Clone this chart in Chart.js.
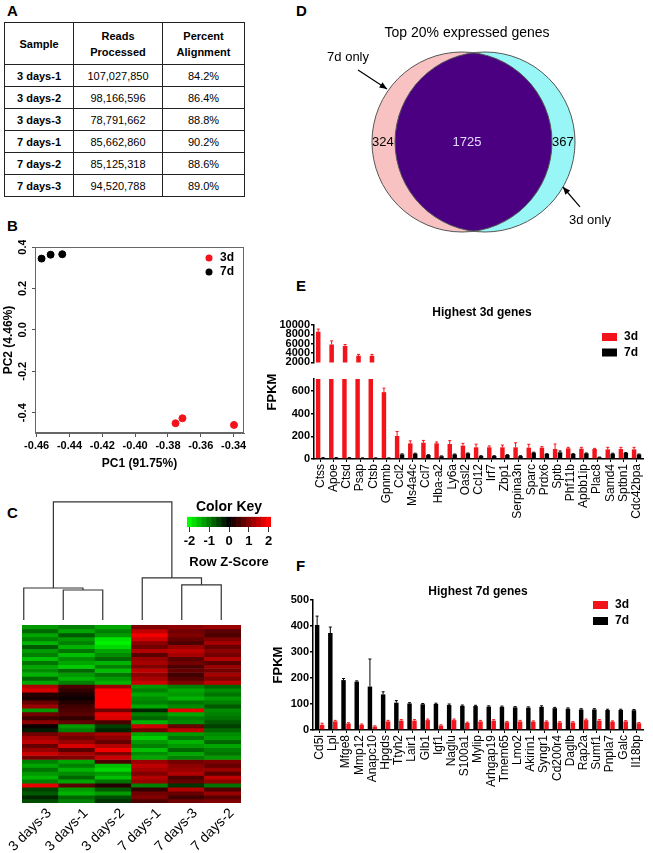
<!DOCTYPE html>
<html>
<head>
<meta charset="utf-8">
<script src="https://cdn.jsdelivr.net/npm/chart.js@4.4.0/dist/chart.umd.min.js"></script>
<style>
body { margin: 0; background: #fff; font-family: "Liberation Sans", Arial, sans-serif; }
#page { position: relative; width: 653px; height: 853px; overflow: hidden; }
.lbl { position: absolute; font-weight: bold; font-size: 15px; line-height: 15px; }
canvas { position: absolute; }
#tbl { position: absolute; left: 4px; top: 22px; width: 240px; border-collapse: collapse; table-layout: fixed; font-size: 11px; }
#tbl td, #tbl th { border: 1.5px solid #222; text-align: center; padding: 0; font-weight: normal; }
#tbl th { font-weight: bold; line-height: 16px; height: 41px; }
#tbl td { height: 21px; }
#tbl td:first-child { font-weight: bold; }
</style>
</head>
<body>
<div id="page">
  <div class="lbl" style="left:7px;top:3px">A</div>
  <div class="lbl" style="left:7px;top:218px">B</div>
  <div class="lbl" style="left:7px;top:505px">C</div>
  <div class="lbl" style="left:296px;top:3px">D</div>
  <div class="lbl" style="left:296px;top:278px">E</div>
  <div class="lbl" style="left:296px;top:558px">F</div>

  <table id="tbl">
    <colgroup><col style="width:69px"><col style="width:89px"><col style="width:82px"></colgroup>
    <thead><tr><th>Sample</th><th>Reads<br>Processed</th><th>Percent<br>Alignment</th></tr></thead>
    <tbody id="tbody"></tbody>
  </table>

  <canvas id="pca" width="250" height="235" style="left:0;top:240px"></canvas>
  <canvas id="dendro" width="237" height="125" style="left:4px;top:497px"></canvas>
  <canvas id="key" width="118" height="75" style="left:170px;top:497px"></canvas>
  <canvas id="heat" width="262" height="228" style="left:0;top:625px"></canvas>
  <canvas id="venn" width="353" height="262" style="left:300px;top:0"></canvas>
  <canvas id="e1" width="403" height="70" style="left:250px;top:300px"></canvas>
  <canvas id="e2" width="403" height="160" style="left:250px;top:370px"></canvas>
  <canvas id="f" width="403" height="273" style="left:250px;top:580px"></canvas>
</div>
<script>
// A: sequencing summary
var samples = ['3 days-1', '3 days-2', '3 days-3', '7 days-1', '7 days-2', '7 days-3'];
var readsProcessed = [107027850, 98166596, 78791662, 85662860, 85125318, 94520788];
var percentAlignment = [84.2, 86.4, 88.8, 90.2, 88.6, 89.0];

// B: PCA
var pcXTicks = [-0.46, -0.44, -0.42, -0.40, -0.38, -0.36, -0.34];
var pcYTicks = [-0.4, -0.2, 0.0, 0.2, 0.4];
var pc1_3d = [-0.3754, -0.3712, -0.3398];
var pc2_3d = [-0.451, -0.427, -0.459];
var pc1_7d = [-0.457, -0.4515, -0.4444];
var pc2_7d = [0.344, 0.363, 0.365];

// C: heatmap (row z-scores, top row first)
var heatCols = ['3 days-3', '3 days-1', '3 days-2', '7 days-1', '7 days-3', '7 days-2'];
var heatZ = [
  [-1.2, -1.0, -1.3, 1.0, 1.1, 1.2],
  [-0.8, -1.3, -1.0, 1.5, 0.9, 0.7],
  [-1.3, -0.7, -1.2, 1.9, 1.0, 0.6],
  [-1.0, -1.2, -1.8, 1.6, 0.8, 1.0],
  [-1.4, -1.0, -1.9, 1.1, 0.6, 1.3],
  [-0.7, -1.4, -1.7, 0.9, 1.2, 0.8],
  [-1.2, -0.9, -1.3, 1.4, 1.5, 1.1],
  [-1.0, -1.5, -1.1, 0.7, 1.3, 0.9],
  [-1.5, -1.1, -0.8, 1.2, 0.7, 1.4],
  [-0.9, -1.3, -1.4, 1.3, 0.9, 0.7],
  [-1.3, -1.6, -1.0, 1.0, 0.6, 1.2],
  [-1.1, -0.8, -1.5, 1.5, 0.8, 0.9],
  [-1.4, -1.2, -0.9, 1.1, 0.5, 1.3],
  [-0.8, -1.4, -1.2, 1.3, 0.7, 1.0],
  [-1.3, -1.0, -1.4, 1.6, 1.0, 1.5],
  [1.4, 0.6, 1.2, -1.2, -1.0, -0.8],
  [1.7, 0.4, 2.0, -1.0, -1.3, -1.1],
  [0.3, 0.2, 2.2, -1.3, -1.2, -0.9],
  [0.2, 0.1, 2.2, -1.1, -1.4, -1.2],
  [0.8, 0.3, 2.2, -1.0, -0.9, -1.0],
  [1.2, 0.5, 2.1, -1.3, -1.1, -0.7],
  [-1.2, 0.6, 0.9, -0.3, 1.8, -1.1],
  [0.9, 0.7, 1.8, -1.0, -1.3, -1.0],
  [0.5, 0.4, 1.7, -0.8, -1.0, -0.9],
  [1.1, 0.8, 0.6, -1.4, -1.1, -0.7],
  [0.1, -1.2, -0.5, 1.6, 0.8, -0.5],
  [-0.2, -1.0, -0.3, 0.9, 1.5, -0.8],
  [0.9, 1.1, 1.3, -1.3, -1.2, -1.1],
  [1.3, 0.9, 1.1, -1.6, -0.9, -1.2],
  [1.5, 1.2, 0.8, -1.2, -1.4, -0.8],
  [0.8, 1.7, 1.4, -1.0, -1.2, -1.3],
  [1.2, 0.7, 1.9, -1.5, -0.8, -1.0],
  [1.6, 1.3, 1.0, -1.1, -1.3, -0.9],
  [0.9, 1.0, 1.6, -1.3, -1.0, -1.2],
  [-1.0, -1.3, 0.6, 1.2, 0.9, 1.0],
  [-1.3, -1.0, -1.5, 1.5, 1.1, 0.8],
  [-0.9, -1.4, -1.7, 1.3, 1.2, 1.2],
  [-1.2, -1.1, -1.2, 1.0, 1.4, 0.7],
  [-1.4, -0.8, -1.5, 1.4, 0.6, 1.5],
  [-1.0, -1.3, -0.9, 1.2, 0.8, 1.1],
  [1.8, 0.7, 0.3, -1.0, -0.4, -0.9],
  [-0.5, -1.2, -0.7, 0.4, 1.4, 0.6],
  [-0.7, -1.4, -1.2, 0.9, 0.8, 1.2],
  [-0.3, -0.8, -0.6, 1.0, 0.5, 0.7],
  [-0.6, -1.0, -0.4, 0.6, 0.9, 1.0]
];
var keyBins = [-2, -1.75, -1.5, -1.25, -1, -0.75, -0.5, -0.25, 0, 0.25, 0.5, 0.75, 1, 1.25, 1.5, 1.75, 2];
var keyTicks = [-2, -1, 0, 1, 2];
// children: leaf column index or earlier merge 'm<i>'
var dendroMerges = [
  { a: 1, b: 2, h: 0.254 },
  { a: 0, b: 'm0', h: 0.271 },
  { a: 4, b: 5, h: 0.297 },
  { a: 3, b: 'm2', h: 0.356 },
  { a: 'm1', b: 'm3', h: 1 }
];

// D: venn counts
var vennLabels = ['7d only', 'both', '3d only'];
var vennCounts = [324, 1725, 367];

// E: highest 3d genes
var genes3d = ['Ctss', 'Apoe', 'Ctsd', 'Psap', 'Ctsb', 'Gpnmb', 'Ccl2', 'Ms4a4c', 'Ccl7', 'Hba-a2', 'Ly6a', 'Oasl2', 'Ccl12',
  'Irf7', 'Zbp1', 'Serpina3n', 'Sparc', 'Prdx6', 'Sptb', 'Phf11b', 'Apbb1ip', 'Plac8', 'Samd4', 'Sptbn1', 'Cdc42bpa'];
var e3d = [8530, 5830, 5520, 3410, 3410, 590, 203, 138, 144, 138, 132, 118, 103, 103, 103, 103, 100, 100, 88, 94, 91, 88, 85, 88, 85];
var e3dErr = [600, 770, 300, 300, 300, 35, 40, 22, 20, 12, 30, 20, 28, 12, 20, 40, 30, 9, 44, 9, 12, 6, 18, 15, 18];
var e7d = [10, 10, 10, 8, 8, 8, 41, 47, 35, 24, 41, 50, 26, 26, 35, 26, 56, 44, 59, 44, 50, 15, 47, 53, 41];
var e7dErr = [2, 2, 2, 2, 2, 2, 4, 4, 3, 3, 3, 3, 3, 3, 3, 3, 4, 3, 12, 3, 3, 2, 4, 4, 3];
var eHighTicks = [2000, 4000, 6000, 8000, 10000];
var eLowTicks = [0, 200, 400, 600];

// F: highest 7d genes
var genes7d = ['Cd5l', 'Lpl', 'Mfge8', 'Mmp12', 'Anapc10', 'Hpgds', 'Ttyh2', 'Lair1', 'Glb1', 'Igf1', 'Naglu', 'S100a1', 'Mylip',
  'Arhgap19', 'Tmem65', 'Lmo2', 'Akirin1', 'Syngr1', 'Cd200r4', 'Daglb', 'Rap2a', 'Sumf1', 'Pnpla7', 'Galc', 'Il18bp'];
var f7d = [404, 373, 192, 186, 167, 137, 105, 102, 99, 100, 96, 93, 92, 90, 89, 87, 86, 89, 84, 82, 79, 79, 77, 77, 76];
var f7dErr = [34, 23, 6, 3, 106, 10, 8, 3, 3, 3, 4, 3, 3, 3, 3, 3, 3, 4, 3, 3, 3, 3, 3, 3, 3];
var f3d = [20, 33, 25, 20, 13, 33, 36, 36, 38, 17, 38, 27, 33, 36, 30, 33, 32, 32, 29, 29, 38, 36, 32, 33, 26];
var f3dErr = [6, 4, 3, 3, 3, 4, 4, 4, 4, 3, 4, 3, 4, 4, 3, 4, 3, 3, 3, 3, 4, 4, 3, 3, 3];
var fTicks = [0, 100, 200, 300, 400, 500];

var RED = '#f2141a';
var FONT = '"Liberation Sans", Arial, sans-serif';

// ---------- table ----------
var tbody = document.getElementById('tbody');
samples.forEach(function(s, i) {
  var tr = document.createElement('tr');
  [s, readsProcessed[i].toLocaleString('en-US'), percentAlignment[i].toFixed(1) + '%'].forEach(function(t) {
    var td = document.createElement('td');
    td.textContent = t;
    tr.appendChild(td);
  });
  tbody.appendChild(tr);
});

Chart.defaults.font.family = FONT;
Chart.defaults.color = '#000';
Chart.defaults.animation = false;
Chart.defaults.responsive = false;
Chart.defaults.plugins.legend.display = false;
Chart.defaults.plugins.tooltip.enabled = false;

function fixTicks(arr) {
  return function(s) { s.ticks = arr.map(function(v) { return { value: v }; }); };
}

// texts drawn at canvas pixel positions
function textPlugin(items) {
  return {
    id: 'texts',
    afterDraw: function(chart) {
      var ctx = chart.ctx;
      items.forEach(function(t) {
        ctx.save();
        ctx.font = t.font;
        ctx.fillStyle = t.color || '#000';
        ctx.textAlign = t.align || 'center';
        ctx.textBaseline = 'middle';
        ctx.translate(t.x, t.y);
        if (t.rot) ctx.rotate(t.rot);
        ctx.fillText(t.text, 0, 0);
        ctx.restore();
      });
    }
  };
}

function legendPlugin(x, y, gap, order, dot) {
  return {
    id: 'miniLegend',
    afterDraw: function(chart) {
      var ctx = chart.ctx;
      ctx.save();
      order.forEach(function(di, k) {
        var ds = chart.data.datasets[di];
        var cy = y + k * gap;
        ctx.fillStyle = ds.backgroundColor;
        if (dot) {
          ctx.beginPath(); ctx.arc(x, cy, 3.5, 0, Math.PI * 2); ctx.fill();
        } else {
          ctx.fillRect(x, cy - 4, 15, 8);
        }
        ctx.fillStyle = '#000';
        ctx.font = 'bold 12px ' + FONT;
        ctx.textAlign = 'left';
        ctx.textBaseline = 'middle';
        ctx.fillText(ds.label, x + (dot ? 11 : 22), cy);
      });
      ctx.restore();
    }
  };
}

var errorBars = {
  id: 'errorBars',
  afterDatasetsDraw: function(chart) {
    var ctx = chart.ctx, a = chart.chartArea, ys = chart.scales.y;
    ctx.save();
    ctx.beginPath(); ctx.rect(a.left, a.top, a.right - a.left, a.bottom - a.top); ctx.clip();
    chart.data.datasets.forEach(function(ds, i) {
      if (!ds.errors) return;
      chart.getDatasetMeta(i).data.forEach(function(bar, j) {
        var top = ys.getPixelForValue(ds.data[j] + ds.errors[j]);
        ctx.strokeStyle = ds.backgroundColor;
        ctx.lineWidth = 1;
        ctx.beginPath();
        ctx.moveTo(bar.x, bar.y); ctx.lineTo(bar.x, top);
        ctx.moveTo(bar.x - 1.5, top); ctx.lineTo(bar.x + 1.5, top);
        ctx.stroke();
      });
    });
    ctx.restore();
  }
};

var framePlugin = {
  id: 'frame',
  afterDraw: function(chart) {
    var a = chart.chartArea, ctx = chart.ctx;
    ctx.save();
    ctx.strokeStyle = '#666'; ctx.lineWidth = 1;
    ctx.strokeRect(a.left + 0.5, a.top + 0.5, a.right - a.left - 1, a.bottom - a.top - 1);
    ctx.restore();
  }
};

// vertical (rotated) y tick labels for the PCA plot, placed through the y scale
var pcYLabels = {
  id: 'pcYLabels',
  afterDraw: function(chart) {
    var ctx = chart.ctx, ys = chart.scales.y;
    ctx.save();
    ctx.font = 'bold 11px ' + FONT;
    ctx.fillStyle = '#000';
    ctx.textAlign = 'center';
    ctx.textBaseline = 'middle';
    pcYTicks.forEach(function(v) {
      ctx.save();
      ctx.translate(23, ys.getPixelForValue(v));
      ctx.rotate(-Math.PI / 2);
      ctx.fillText(v.toFixed(1), 0, 0);
      ctx.restore();
    });
    ctx.restore();
  }
};

// ---------- B: PCA ----------
new Chart(document.getElementById('pca'), {
  type: 'scatter',
  data: {
    datasets: [
      { label: '3d', data: pc1_3d.map(function(x, i) { return { x: x, y: pc2_3d[i] }; }),
        backgroundColor: RED, borderColor: RED, pointRadius: 3.5 },
      { label: '7d', data: pc1_7d.map(function(x, i) { return { x: x, y: pc2_7d[i] }; }),
        backgroundColor: '#000', borderColor: '#000', pointRadius: 3.5 }
    ]
  },
  options: {
    layout: { padding: { top: 7, right: 6, left: 0, bottom: 0 } },
    scales: {
      x: {
        type: 'linear', min: -0.461, max: -0.3337,
        afterBuildTicks: fixTicks(pcXTicks),
        afterFit: function(s) { s.height = 42; },
        ticks: { font: { size: 11, weight: 'bold' }, padding: 2, autoSkip: false,
          callback: function(v) { return v.toFixed(2); } },
        grid: { drawOnChartArea: false, tickLength: 4, color: '#555' },
        border: { color: '#666' },
        title: { display: true, text: 'PC1 (91.75%)', font: { size: 12, weight: 'bold' }, padding: { top: 0, bottom: 4 } }
      },
      y: {
        type: 'linear', min: -0.498, max: 0.4,
        afterBuildTicks: fixTicks(pcYTicks),
        afterFit: function(s) { s.width = 35; },
        ticks: { display: false },
        grid: { drawOnChartArea: false, tickLength: 3, color: '#555' },
        border: { color: '#666' },
        title: { display: true, text: 'PC2 (4.46%)', font: { size: 12, weight: 'bold' }, padding: { top: 1, bottom: 0 } }
      }
    }
  },
  plugins: [framePlugin, pcYLabels, legendPlugin(209, 18, 14, [0, 1], true)]
});

// ---------- C: heatmap, dendrogram, colour key ----------
function zColor(z) {
  var c = Math.round(255 * Math.min(1, Math.abs(z) / 2));
  return z < 0 ? 'rgb(0,' + c + ',0)' : 'rgb(' + c + ',0,0)';
}

new Chart(document.getElementById('heat'), {
  type: 'bar',
  data: {
    labels: heatCols,
    datasets: heatZ.map(function(row) {
      return { data: row.map(function() { return 1; }), backgroundColor: row.map(zColor),
        borderWidth: 0, barPercentage: 1, categoryPercentage: 1 };
    })
  },
  options: {
    layout: { padding: { left: 4, right: 21, top: 0, bottom: 0 } },
    scales: {
      x: {
        stacked: true,
        afterFit: function(s) { s.height = 50; },
        ticks: { font: { size: 14 }, minRotation: 45, maxRotation: 45, autoSkip: false, labelOffset: 9, padding: 2 },
        grid: { display: false, drawTicks: false },
        border: { display: false }
      },
      y: { stacked: true, display: false, min: 0, max: heatZ.length, reverse: true }
    }
  }
});

var nodeX = {}, nodeH = {};
function posOf(n) { return typeof n === 'number' ? n + 0.5 : nodeX[n]; }
function hOf(n) { return typeof n === 'number' ? 0 : nodeH[n]; }
var dendroSets = dendroMerges.map(function(m, i) {
  var xa = posOf(m.a), xb = posOf(m.b);
  var set = {
    data: [{ x: xa, y: hOf(m.a) }, { x: xa, y: m.h }, { x: xb, y: m.h }, { x: xb, y: hOf(m.b) }],
    showLine: true, borderColor: '#333', borderWidth: 1.2, pointRadius: 0
  };
  nodeX['m' + i] = (xa + xb) / 2;
  nodeH['m' + i] = m.h;
  return set;
});

new Chart(document.getElementById('dendro'), {
  type: 'scatter',
  data: { datasets: dendroSets },
  options: {
    layout: { padding: 0 },
    scales: {
      x: { type: 'linear', display: false, min: 0, max: heatCols.length },
      y: { type: 'linear', display: false, min: -0.017, max: 1.042 }
    }
  }
});

new Chart(document.getElementById('key'), {
  type: 'bar',
  data: {
    datasets: [{
      data: keyBins.map(function(z) { return { x: z, y: 1 }; }),
      backgroundColor: keyBins.map(zColor), borderWidth: 0, barPercentage: 1, categoryPercentage: 1
    }]
  },
  options: {
    layout: { padding: { left: 17, right: 17, top: 0, bottom: 0 } },
    plugins: {
      title: { display: true, text: 'Color Key', font: { size: 14, weight: 'bold' }, color: '#000', padding: { top: 2, bottom: 1 } }
    },
    scales: {
      x: {
        type: 'linear', min: -2.125, max: 2.125, offset: false,
        afterBuildTicks: fixTicks(keyTicks),
        afterFit: function(s) { s.height = 45; },
        ticks: { font: { size: 13, weight: 'bold' }, padding: 2, autoSkip: false },
        grid: { drawOnChartArea: false, tickLength: 5, color: '#333', offset: false },
        border: { display: false },
        title: { display: true, text: 'Row Z-Score', font: { size: 13, weight: 'bold' }, padding: { top: 0, bottom: 2 } }
      },
      y: { display: false, min: 0, max: 1 }
    }
  }
});

// ---------- D: venn ----------
var vennGeo = { c7: -0.128, c3: 0.128, r: 1 };
var vennText = [{ x: -1.006, y: 0 }, { x: -0.072, y: 0 }, { x: 0.994, y: 0 }];
var vennPlugin = {
  id: 'venn',
  afterDraw: function(chart) {
    var ctx = chart.ctx, sx = chart.scales.x, sy = chart.scales.y;
    var rx = sx.getPixelForValue(vennGeo.r) - sx.getPixelForValue(0);
    var ry = sy.getPixelForValue(0) - sy.getPixelForValue(vennGeo.r);
    var cy = sy.getPixelForValue(0);
    var x7 = sx.getPixelForValue(vennGeo.c7), x3 = sx.getPixelForValue(vennGeo.c3);
    function ell(x) { ctx.beginPath(); ctx.ellipse(x, cy, rx, ry, 0, 0, Math.PI * 2); }
    function px(x, y) { return [sx.getPixelForValue(x), sy.getPixelForValue(y)]; }
    function arrow(a, b) {
      var p = px(a[0], a[1]), q = px(b[0], b[1]);
      var ang = Math.atan2(q[1] - p[1], q[0] - p[0]);
      ctx.beginPath(); ctx.moveTo(p[0], p[1]); ctx.lineTo(q[0], q[1]); ctx.stroke();
      ctx.beginPath(); ctx.moveTo(q[0], q[1]);
      ctx.lineTo(q[0] - 8 * Math.cos(ang - 0.4), q[1] - 8 * Math.sin(ang - 0.4));
      ctx.lineTo(q[0] - 8 * Math.cos(ang + 0.4), q[1] - 8 * Math.sin(ang + 0.4));
      ctx.closePath(); ctx.fill();
    }
    function text(t, x, y, font, color) {
      var p = px(x, y);
      ctx.font = font; ctx.fillStyle = color || '#000';
      ctx.textAlign = 'center'; ctx.textBaseline = 'middle';
      ctx.fillText(t, p[0], p[1]);
    }
    ctx.save();
    ell(x7); ctx.fillStyle = '#f9c2c2'; ctx.fill();
    ell(x3); ctx.fillStyle = '#98f6f6'; ctx.fill();
    ctx.save(); ell(x7); ctx.clip(); ell(x3); ctx.fillStyle = '#4b0082'; ctx.fill(); ctx.restore();
    ctx.strokeStyle = '#555'; ctx.lineWidth = 1;
    ell(x7); ctx.stroke(); ell(x3); ctx.stroke();

    text('Top 20% expressed genes', -0.072, 1.211, '14px ' + FONT);
    text(vennLabels[0], -1.394, 0.944, '13px ' + FONT);
    text(vennLabels[2], 1.294, -0.867, '13px ' + FONT);
    vennCounts.forEach(function(c, i) {
      text(String(c), vennText[i].x, vennText[i].y, '13px ' + FONT, i === 1 ? '#e4d8ff' : '#000');
    });
    ctx.strokeStyle = '#000'; ctx.fillStyle = '#000'; ctx.lineWidth = 1.2;
    arrow([-1.283, 0.8], [-0.961, 0.589]);
    arrow([1.183, -0.722], [0.994, -0.5]);
    ctx.restore();
  }
};

new Chart(document.getElementById('venn'), {
  type: 'scatter',
  data: { datasets: [] },
  options: {
    layout: { padding: 0 },
    scales: {
      x: { type: 'linear', display: false, min: -1.9278, max: 1.9944 },
      y: { type: 'linear', display: false, min: -1.3333, max: 1.5778 }
    }
  },
  plugins: [vennPlugin]
});

// ---------- E / F bar charts ----------
function yAxis(min, max, ticks, width, extra) {
  var ax = {
    min: min, max: max,
    afterBuildTicks: fixTicks(ticks),
    afterFit: function(s) { s.width = width; },
    ticks: { font: { size: 11, weight: 'bold' }, padding: 1, autoSkip: false,
      callback: function(v) { return String(v); } },
    grid: { drawOnChartArea: false, tickLength: 3, color: '#000', lineWidth: 1.5 },
    border: { color: '#000', width: 1.5 }
  };
  return Object.assign(ax, extra || {});
}
function xAxis(height) {
  return {
    afterFit: function(s) { s.height = height; },
    ticks: { font: { size: 12 }, minRotation: 90, maxRotation: 90, autoSkip: false, padding: 2 },
    grid: { drawOnChartArea: false, tickLength: 3, color: '#000', offset: false },
    border: { color: '#000', width: 1.5 }
  };
}
function eSets() {
  return [
    { label: '3d', data: e3d, errors: e3dErr, backgroundColor: RED, categoryPercentage: 0.75, barPercentage: 0.9 },
    { label: '7d', data: e7d, errors: e7dErr, backgroundColor: '#000', categoryPercentage: 0.75, barPercentage: 0.9 }
  ];
}

new Chart(document.getElementById('e1'), {
  type: 'bar',
  data: { labels: genes3d, datasets: eSets() },
  options: {
    layout: { padding: { top: 25, right: 3, bottom: 1, left: 0 } },
    scales: {
      x: { display: false },
      y: yAxis(2000, 10000, eHighTicks, 64)
    }
  },
  plugins: [errorBars, legendPlugin(352, 37, 15.5, [0, 1], false),
    textPlugin([{ text: 'Highest 3d genes', x: 232, y: 13, font: 'bold 12px ' + FONT }])]
});

new Chart(document.getElementById('e2'), {
  type: 'bar',
  data: { labels: genes3d, datasets: eSets() },
  options: {
    layout: { padding: { top: 9, right: 3, bottom: 0, left: 0 } },
    scales: {
      x: xAxis(71),
      y: yAxis(0, 706, eLowTicks, 64)
    }
  },
  plugins: [errorBars,
    textPlugin([{ text: 'FPKM', x: 22.5, y: 22, font: 'bold 13px ' + FONT, rot: -Math.PI / 2 }])]
});

new Chart(document.getElementById('f'), {
  type: 'bar',
  data: {
    labels: genes7d,
    datasets: [
      { label: '7d', data: f7d, errors: f7dErr, backgroundColor: '#000', categoryPercentage: 0.75, barPercentage: 0.9 },
      { label: '3d', data: f3d, errors: f3dErr, backgroundColor: RED, categoryPercentage: 0.75, barPercentage: 0.9 }
    ]
  },
  options: {
    layout: { padding: { top: 20, right: 8, bottom: 0, left: 0 } },
    scales: {
      x: xAxis(123),
      y: yAxis(0, 500, fTicks, 63, {
        title: { display: true, text: 'FPKM', font: { size: 13, weight: 'bold' }, padding: { top: 21, bottom: 0 } }
      })
    }
  },
  plugins: [errorBars, legendPlugin(343, 25, 16, [1, 0], false),
    textPlugin([{ text: 'Highest 7d genes', x: 228, y: 12, font: 'bold 12px ' + FONT }])]
});
</script>
</body>
</html>
